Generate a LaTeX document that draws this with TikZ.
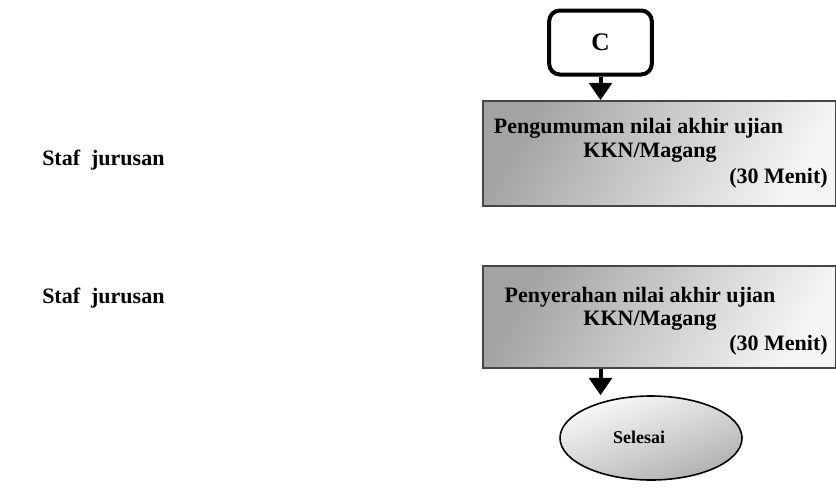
\documentclass[tikz,border=0pt]{standalone}
\usepackage{fontspec}
\setmainfont{Liberation Serif}
\usetikzlibrary{arrows.meta,shapes.geometric,positioning}

\tikzset{
  flowbox/.style={draw={rgb, 255:red, 70; green, 70; blue, 70}, line width=1.2pt, shading=axis,
    top color=gray!72, bottom color=gray!8, shading angle=60, inner sep=0pt},
  flowarrow/.style={line width=3pt, -{Triangle[length=13pt,width=17pt]}},
  boxtext/.style={inner sep=0pt, font=\fontsize{16.5}{20}\selectfont\bfseries}
}

\begin{document}
\begin{tikzpicture}[x=0.75pt,y=0.75pt,yscale=-1,xscale=1]
\useasboundingbox (0,0) rectangle (836,489);
%Rounded box C
\node (c) at (600.5,42.5) [draw, line width=3pt, rounded corners=8pt, minimum width=77pt, minimum height=48pt, inner sep=0pt, font=\fontsize{19}{20}\selectfont\bfseries] {C};
%Shape: Rectangle
\node (umum) at (659.5,153.5) [flowbox, minimum width=264.75pt, minimum height=78.75pt] {};
%Shape: Rectangle
\node (serah) at (659.5,317) [flowbox, minimum width=264.75pt, minimum height=76.5pt] {};
%Shape: Ellipse
\node (selesai) at (651,438) [ellipse, draw, line width=1.2pt, shading=axis, top color=gray!4, bottom color=gray!62, shading angle=20, minimum width=136.5pt, minimum height=63pt, inner sep=0pt] {};
%Arrows
\coordinate (a1) at (c.south |- umum.north);
\coordinate (a2) at (c.south |- serah.south);
\coordinate (a3) at (c.south |- selesai.north);
\draw [flowarrow] (c.south) -- (a1);
\draw [flowarrow] (a2) -- (a3);
% Text Node
\node (umum1) at (638.5,128) [boxtext] {Pengumuman nilai akhir ujian};
\node (umum2) at (650,153) [boxtext] {KKN/Magang};
\node (umum3) at (828,178) [boxtext, anchor=east] {(30 Menit)};
% Text Node
\node (serah1) at (640,297) [boxtext] {Penyerahan nilai akhir ujian};
\node (serah2) at (650,321) [boxtext] {KKN/Magang};
\node (serah3) at (828,345) [boxtext, anchor=east] {(30 Menit)};
% Text Node
\node (selesaitext) at (639,437) [inner sep=0pt, font=\fontsize{13.5}{16}\selectfont\bfseries] {Selesai};
% Text Node
\node (staf1) at (42,160) [boxtext, anchor=west] {Staf~ jurusan};
\node (staf2) at (42,298) [boxtext, anchor=west] {Staf~ jurusan};
\end{tikzpicture}
\end{document}
